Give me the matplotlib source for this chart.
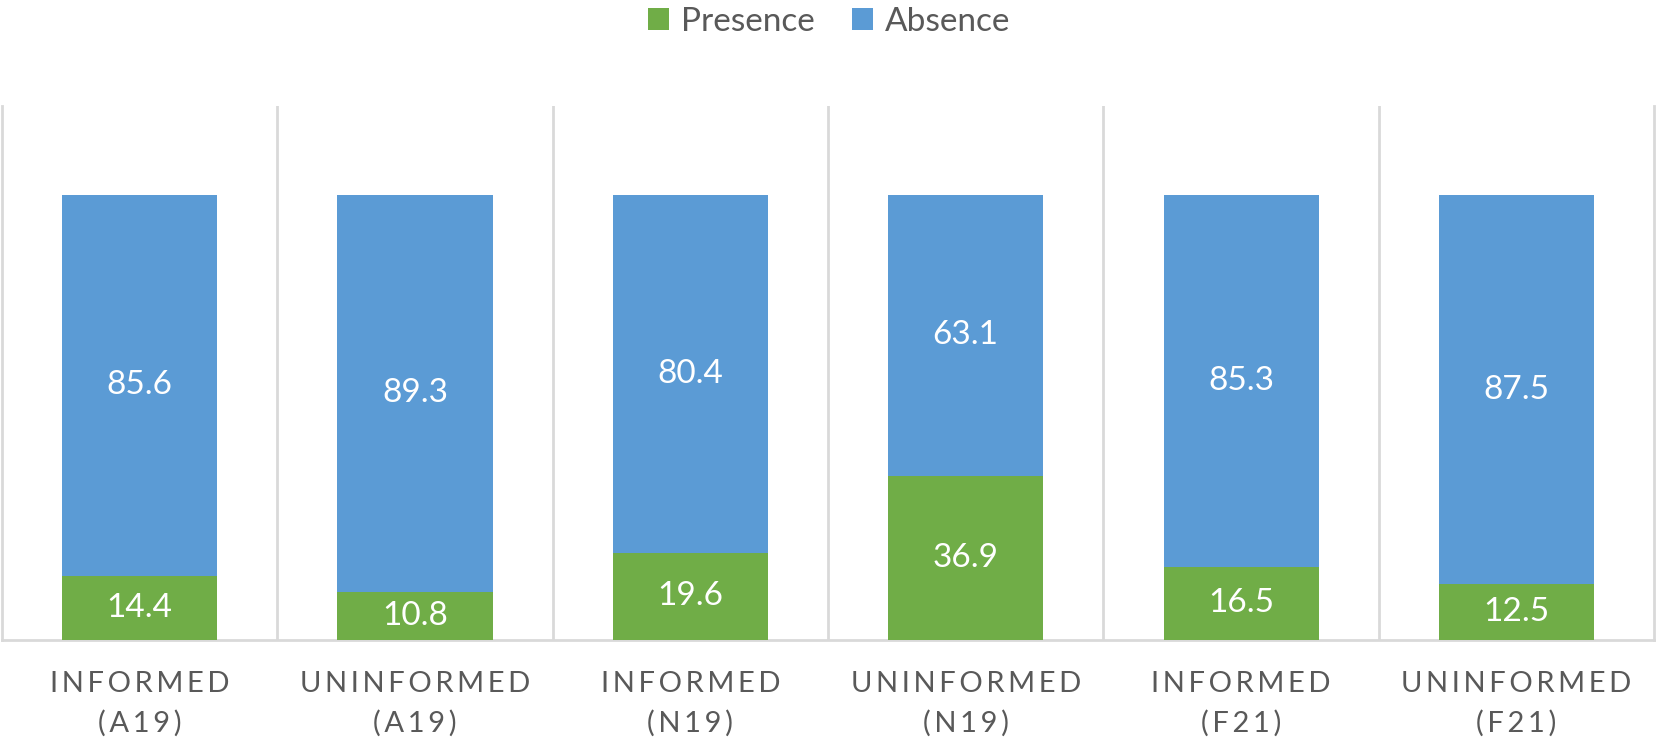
import matplotlib
matplotlib.use("Agg")
import matplotlib.pyplot as plt
import numpy as np

categories = ["INFORMED\n(A19)", "UNINFORMED\n(A19)", "INFORMED\n(N19)",
              "UNINFORMED\n(N19)", "INFORMED\n(F21)", "UNINFORMED\n(F21)"]
presence = [14.4, 10.8, 19.6, 36.9, 16.5, 12.5]
absence = [85.6, 89.3, 80.4, 63.1, 83.5, 87.5]          # bar heights as drawn
presence_labels = ["14.4", "10.8", "19.6", "36.9", "16.5", "12.5"]
absence_labels = ["85.6", "89.3", "80.4", "63.1", "85.3", "87.5"]  # printed labels

GREEN = "#70AD47"
BLUE = "#5B9BD5"
GRID = "#D9D9D9"
TXT = "#595959"

plt.rcParams['font.family'] = ['Lato', 'DejaVu Sans']

def spaced(s):
    sp = "\u2009"
    return "\n".join(sp.join(list(line)) for line in s.split("\n"))

fig = plt.figure(figsize=(16.58, 7.46), dpi=100)
ax = fig.add_axes([0.0012, 0.142, 0.9964, 0.716])

x = np.arange(len(categories))
w = 0.563
b1 = ax.bar(x, presence, w, color=GREEN, label="Presence", zorder=3)
b2 = ax.bar(x, absence, w, bottom=presence, color=BLUE, label="Absence", zorder=3)

for i in range(len(x)):
    ax.text(x[i], presence[i] / 2, presence_labels[i], ha="center", va="center",
            color="white", fontsize=24, zorder=4)
    ax.text(x[i], presence[i] + absence[i] / 2, absence_labels[i], ha="center",
            va="center", color="white", fontsize=24, zorder=4)

ax.set_xlim(-0.5, len(x) - 0.5)
ax.set_ylim(0, 120)
for b in np.arange(0.5, len(x) - 0.5, 1):
    ax.axvline(b, color=GRID, lw=2, zorder=1)
for s in ["left", "right", "bottom"]:
    ax.spines[s].set_color(GRID)
    ax.spines[s].set_linewidth(2)
ax.spines["top"].set_visible(False)
ax.set_yticks([])
ax.set_xticks(x)
ax.set_xticklabels([spaced(c) for c in categories], fontsize=21, color=TXT,
                   linespacing=1.6)
ax.tick_params(axis="x", length=0, pad=22)

leg = fig.legend(handles=[b1, b2], loc="center", bbox_to_anchor=(0.5, 1 - 22 / 746),
                 ncol=2, frameon=False, fontsize=24, handlelength=0.65, handleheight=0.65,
                 handletextpad=0.35, columnspacing=1.1, labelcolor=TXT)

fig.savefig("out.png", dpi=100)
